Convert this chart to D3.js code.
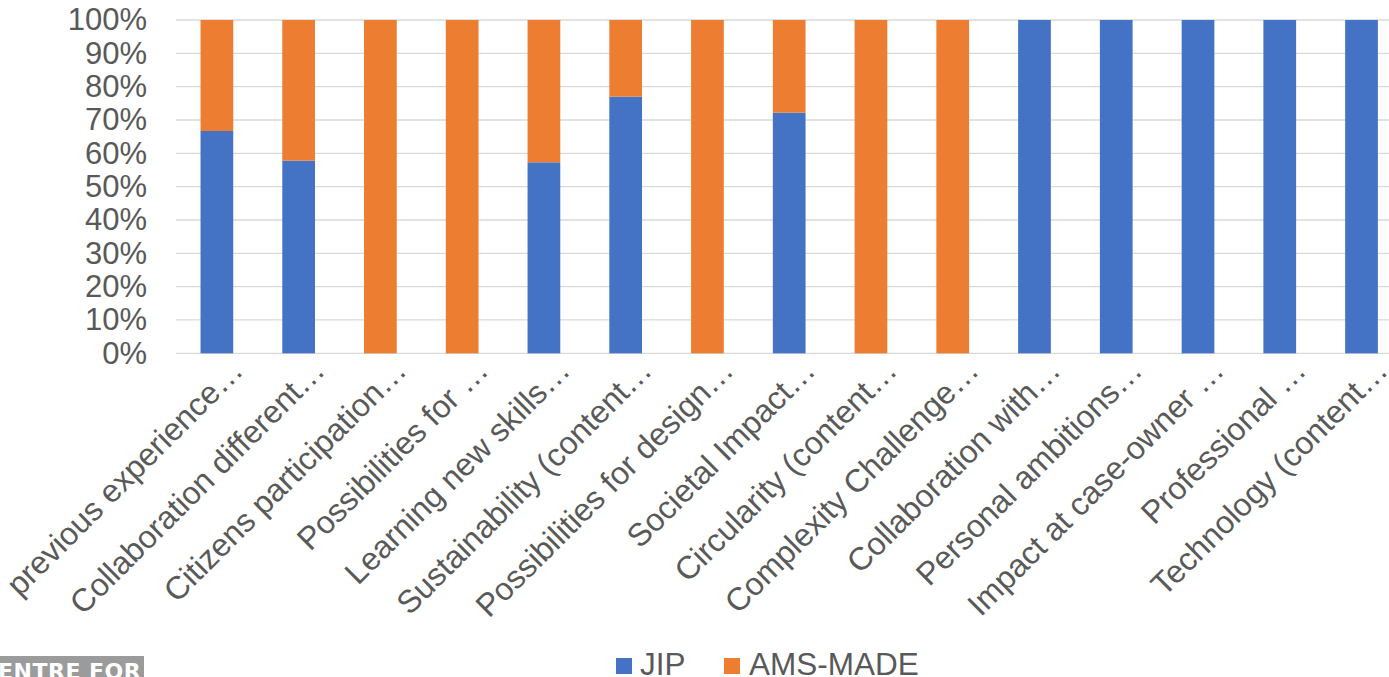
<!DOCTYPE html>
<html>
<head>
<meta charset="utf-8">
<script src="https://cdn.jsdelivr.net/npm/d3@7"></script>
<style>
  html, body { margin: 0; padding: 0; background: #fff; overflow: hidden; }
  svg { display: block; }
</style>
</head>
<body>
<svg id="chart" width="1389" height="677"></svg>
<script>
const categories = [
  "previous experience…",
  "Collaboration different…",
  "Citizens participation…",
  "Possibilities for …",
  "Learning new skills…",
  "Sustainability (content…",
  "Possibilities for design…",
  "Societal Impact…",
  "Circularity (content…",
  "Complexity Challenge…",
  "Collaboration with…",
  "Personal ambitions…",
  "Impact at case-owner …",
  "Professional …",
  "Technology (content…"
];
const jip     = [66.7, 57.8, 0, 0, 57.3, 77.0, 0, 72.2, 0, 0, 100, 100, 100, 100, 100];
const amsMade = [33.3, 42.2, 100, 100, 42.7, 23.0, 100, 27.8, 100, 100, 0, 0, 0, 0, 0];
const seriesNames = ["JIP", "AMS-MADE"];
const yTicks = [0, 10, 20, 30, 40, 50, 60, 70, 80, 90, 100];

const colors = { "JIP": "#4472C4", "AMS-MADE": "#ED7D31" };
const textColor = "#595959";
const font = "'Liberation Sans', Arial, sans-serif";

const svg = d3.select("#chart");

const rows = categories.map((c, i) => ({ cat: c, "JIP": jip[i], "AMS-MADE": amsMade[i] }));
const stacked = d3.stack().keys(seriesNames)(rows);

const x = d3.scaleBand().domain(categories).range([176, 1402.4]).paddingInner(0.6).paddingOuter(0.3);
const y = d3.scaleLinear().domain([0, 100]).range([353.3, 20]);

// gridlines
svg.append("g").selectAll("line").data(yTicks).join("line")
  .attr("x1", 176).attr("x2", 1402)
  .attr("y1", d => y(d)).attr("y2", d => y(d))
  .attr("stroke", "#d9d9d9").attr("stroke-width", 1.3);

// y axis labels
const yAxis = d3.axisLeft(y).tickValues(yTicks).tickFormat(d => d + "%").tickSize(0).tickPadding(29);
const yg = svg.append("g").attr("transform", "translate(176,0)").call(yAxis);
yg.select(".domain").remove();
yg.selectAll("text").attr("fill", textColor).style("font-family", font).style("font-size", "31px");

// bars
svg.append("g").selectAll("g").data(stacked).join("g")
  .attr("fill", d => colors[d.key])
  .selectAll("rect").data(d => d).join("rect")
  .attr("x", d => x(d.data.cat))
  .attr("width", x.bandwidth())
  .attr("y", d => y(d[1]))
  .attr("height", d => y(d[0]) - y(d[1]));

// x labels
const xAxis = d3.axisBottom(x).tickSize(0).tickPadding(0);
const xg = svg.append("g").attr("transform", "translate(0,353.3)").call(xAxis);
xg.select(".domain").remove();
xg.selectAll(".tick text")
  .attr("fill", textColor).style("font-family", font).style("font-size", "32px")
  .attr("text-anchor", "end")
  .attr("dy", null)
  .attr("y", null)
  .attr("transform", "translate(28,19) rotate(-45)");

// legend
const legendPos = [{ name: "JIP", sx: 616, tx: 640 }, { name: "AMS-MADE", sx: 724, tx: 749 }];
const lg = svg.append("g");
lg.selectAll("rect").data(legendPos).join("rect")
  .attr("x", d => d.sx).attr("y", 658).attr("width", 16).attr("height", 16)
  .attr("fill", d => colors[d.name]);
lg.selectAll("text").data(legendPos).join("text")
  .attr("x", d => d.tx).attr("y", 675)
  .attr("fill", textColor).style("font-family", font).style("font-size", "31.5px")
  .text(d => d.name);

// logo fragment bottom-left
svg.append("rect").attr("x", 0).attr("y", 656).attr("width", 144).attr("height", 21).attr("fill", "#9b9b9b");
svg.append("text").attr("x", -2).attr("y", 679)
  .attr("fill", "#fff").style("font-family", "'DejaVu Sans', Verdana, sans-serif")
  .style("font-weight", "bold").style("font-size", "22px").style("letter-spacing", "0.5px")
  .text("ENTRE FOR");
</script>
</body>
</html>
